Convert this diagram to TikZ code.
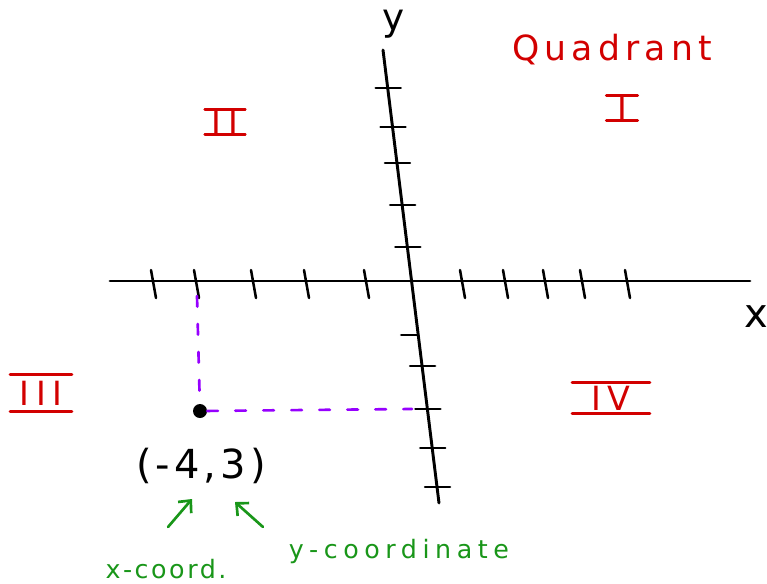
\documentclass[tikz,border=0pt]{standalone}
\usepackage{fontspec}
\setsansfont{DejaVu Sans}
\usepackage{tikz}
\usetikzlibrary{arrows.meta,calc}
\definecolor{quadred}{RGB}{210,0,0}
\definecolor{notegreen}{RGB}{25,150,25}
\definecolor{guidepurple}{RGB}{150,0,255}

\begin{document}
\begin{tikzpicture}[x=0.75pt, y=-0.75pt, every node/.style={font=\sffamily, inner sep=0pt},
    axis/.style={line width=2.2pt, line cap=round},
    tick/.style={line width=1.9pt, line cap=round},
    guide/.style={guidepurple, line width=2pt, line cap=round, dash pattern=on 8pt off 13pt},
    quad/.style={quadred, font=\sffamily\fontsize{25}{25}\selectfont\addfontfeatures{LetterSpace=20}},
    bar/.style={quadred, line width=2.2pt, line cap=round},
    note/.style={notegreen, font=\sffamily\fontsize{19}{20}\selectfont},
    pointer/.style={notegreen, line width=2pt, line cap=round, -{Straight Barb[length=7pt,width=13pt]}}]
    \useasboundingbox (0,0) rectangle (767,583);
    % axes
    \coordinate (xl) at (110,281);
    \coordinate (xr) at (750,281);
    \coordinate (yt) at (383,50);
    \coordinate (yb) at (439,503);
    \draw[axis] (xl) -- (xr);
    \draw[axis] (yt) -- (yb);
    \node (xlab) at (756,317) {\fontsize{30}{30}\selectfont x};
    \node (ylab) at (394,24) {\fontsize{28}{28}\selectfont y};
    % tick marks
    \foreach \x in {153,196,253,306,366,462,505,545,582,627}
        \draw[tick] (\x-2,270) -- (\x+3,298);
    \foreach \py in {88,127,163,205,247,366,409,448,487}
        \draw[tick] ($(yt)!{(\py-50)/453}!(yb)$) ++(-12,0) -- ++(25,0);
    \draw[tick] ($(yt)!{(335-50)/453}!(yb)$) ++(-17,0) -- ++(17,0);
    % the point and its guides
    \node[circle, fill, minimum size=10.5pt] (pt) at (200,411) {};
    \coordinate (gx) at (197,296);
    \coordinate (gy) at (412,409);
    \draw[guide] (gx) -- (pt);
    \draw[guide] (pt) -- (gy);
    \node[font=\sffamily\fontsize{30}{30}\selectfont\addfontfeatures{LetterSpace=10}] (ptlab) at (201,466) {(-4,3)};
    % quadrants
    \node[quadred, font=\sffamily\fontsize{26}{26}\selectfont\addfontfeatures{LetterSpace=15}] (qlab) at (612,50) {Quadrant};
    \node[quad, minimum width=23pt, minimum height=17pt] (q1) at (622,108) {I};
    \node[quad, minimum width=30pt, minimum height=18pt] (q2) at (225,122) {II};
    \node[quad, minimum width=46pt, minimum height=28pt] (q3) at (41,393) {III};
    \node[quad, minimum width=58pt, minimum height=23pt] (q4) at (611,398) {IV};
    \foreach \q in {q1,q2,q3,q4} {
        \draw[bar] (\q.north west) -- (\q.north east);
        \draw[bar] (\q.south west) -- (\q.south east);
    }
    % notes
    \node[note, font=\sffamily\fontsize{19}{20}\selectfont\addfontfeatures{LetterSpace=10}] (xnote) at (166,569) {x-coord.};
    \node[note, font=\sffamily\fontsize{19}{20}\selectfont\addfontfeatures{LetterSpace=22}] (ynote) at (399,551) {y-coordinate};
    \coordinate (xtail) at (168,527);
    \coordinate (xhead) at (192,499);
    \coordinate (ytail) at (263,527);
    \coordinate (yhead) at (235,502);
    \draw[pointer] (xtail) -- (xhead);
    \draw[pointer] (ytail) -- (yhead);
\end{tikzpicture}
\end{document}
